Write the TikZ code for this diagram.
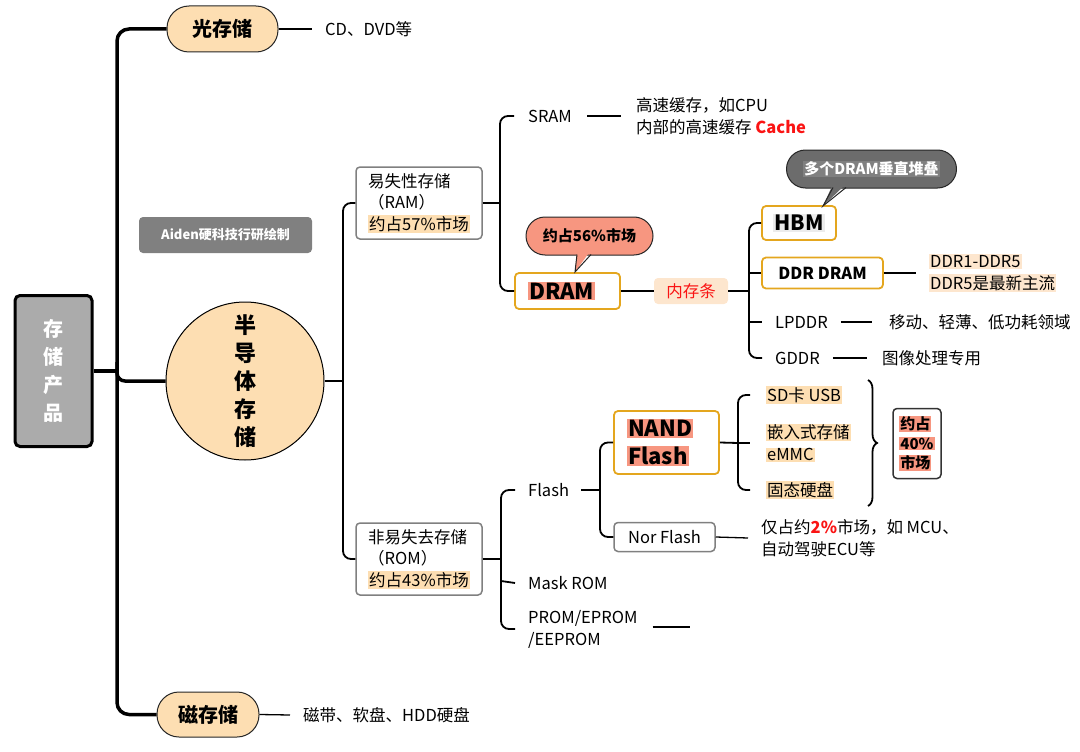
\documentclass[tikz,border=0pt]{standalone}
\usepackage{fontspec}
\setmainfont{Noto Sans CJK SC}
\usetikzlibrary{decorations.pathreplacing}
\definecolor{peach}{RGB}{253,222,178}
\definecolor{lpeach}{RGB}{253,230,206}
\definecolor{salmon}{RGB}{247,150,128}
\definecolor{gold}{RGB}{228,166,30}
\definecolor{rootgray}{RGB}{171,171,171}
\definecolor{boxgray}{RGB}{128,128,128}
\definecolor{dgray}{RGB}{108,108,108}
\definecolor{mgray}{RGB}{128,128,128}
\definecolor{hgray}{RGB}{236,236,236}
\definecolor{redt}{RGB}{250,20,20}
\setlength{\fboxsep}{1pt}
\newcommand\fsz[2]{\fontsize{#1}{#2}\selectfont}
\newcommand\hlp[1]{\colorbox{peach}{#1}}
\newcommand\hll[1]{\colorbox{lpeach}{#1}}
\newcommand\hls[1]{\colorbox{salmon}{#1}}
\tikzset{
  trunk/.style={line width=3.5pt, draw=black},
  br/.style={line width=1.8pt, draw=black},
  thinl/.style={line width=1.3pt, draw=black},
  txt/.style={inner sep=0pt, anchor=west, font=\fsz{16.5}{22}, align=left},
  pill/.style={draw=black!85, line width=1pt, fill=peach, rounded corners=22pt, inner sep=0pt, font=\fsz{20}{24}\bfseries},
  rootbox/.style={draw=black, line width=3pt, fill=rootgray, rounded corners=5pt, minimum width=77, minimum height=151, text=white, font=\fsz{20}{28}\bfseries, align=center, inner sep=0pt},
  gbox/.style={draw=boxgray, line width=1.5pt, fill=white, rounded corners=4pt, align=left, font=\fsz{16.5}{21.5}, inner sep=0pt},
  goldbox/.style={draw=gold, line width=1.8pt, fill=white, rounded corners=4pt, inner sep=0pt},
  wmark/.style={fill=mgray, rounded corners=4pt, minimum width=173, minimum height=36, text=white, font=\fsz{13}{16}\bfseries, inner sep=0pt},
  bubble/.style={draw=black!85, line width=1pt, rounded corners=19pt, minimum height=38, inner sep=0pt, font=\fsz{15}{18}\bfseries},
}
\begin{document}
\begin{tikzpicture}[x=1pt,y=-1pt]
\useasboundingbox (0,0) rectangle (1080,752);

% ---- level 0/1 nodes
\node[rootbox] (root) at (53.5,371) {存\\储\\产\\品};
\node[pill, minimum width=111, minimum height=46] (opt) at (222.5,29) {光存储};
\node[pill, minimum width=102, minimum height=45] (mag) at (208,714.5) {磁存储};
\node[circle, draw=black, line width=1pt, fill=peach, minimum size=158, inner sep=0pt, align=center, font=\fsz{22}{28}\bfseries] (semi) at (245,381) {半\\导\\体\\存\\储};
\node[txt] (cd) at (325,29) {CD、DVD等};
\node[txt] (hdd) at (303,715) {磁带、软盘、HDD硬盘};
\node[wmark] (wm) at (225.5,235) {Aiden硬科技行研绘制};

% ---- RAM branch
\node[gbox, minimum width=126, minimum height=72] (ram) at (419,203) {易失性存储\\（RAM）\\\hlp{约占57\%市场}};
\node[txt] (sram) at (528,116) {SRAM};
\node[txt] (sramd) at (636,116) {高速缓存，如CPU\\内部的高速缓存 {\color{redt}\bfseries Cache}};
\node[goldbox, text width=79pt, inner xsep=13pt, minimum height=36, align=left, font=\fsz{22}{26}\bfseries] (dram) at (567.5,291) {\hls{DRAM}};
\node[bubble, fill=salmon, minimum width=127] (c56) at (589.5,236) {约占56\%市场};
\fill[salmon] (577,250) -- (575,272) -- (591,250) -- cycle;
\draw[line width=1pt, draw=black!85] (577,254.5) -- (575,272) -- (591,254.5);
\node[fill=lpeach, rounded corners=4pt, minimum width=74, minimum height=26, inner sep=0pt, text=redt, font=\fsz{16.5}{20}] (nc) at (691,291) {内存条};
\node[goldbox, minimum width=74, minimum height=34, font=\fsz{21}{24}\bfseries] (hbm) at (799,223) {\colorbox{hgray}{HBM}};
\node[bubble, fill=dgray, minimum width=170, text=white] (cgr) at (871.5,169) {\colorbox{mgray}{多个DRAM垂直堆叠}};
\fill[dgray] (833,184) -- (823,206) -- (846,184) -- cycle;
\draw[line width=1pt, draw=black!85] (833,187.5) -- (823,206) -- (846,187.5);
\node[goldbox, minimum width=121, minimum height=31, font=\fsz{16.5}{20}\bfseries] (ddr) at (822.5,273) {DDR DRAM};
\node[txt] (ddrd) at (929,273) {\hll{DDR1-DDR5}\\\hll{DDR5是最新主流}};
\node[txt] (lp) at (775,322) {LPDDR};
\node[txt] (lpd) at (889,322) {移动、轻薄、低功耗领域};
\node[txt] (gd) at (775,358) {GDDR};
\node[txt] (gdd) at (882,358) {图像处理专用};

% ---- ROM branch
\node[gbox, minimum width=126, minimum height=72] (rom) at (419,559) {非易失去存储\\（ROM）\\\hlp{约占43\%市场}};
\node[txt] (flash) at (528,490) {Flash};
\node[txt] (mask) at (528,583) {Mask ROM};
\node[txt] (prom) at (528,629) {PROM/EPROM\\/EEPROM};
\coordinate (promend) at (690,627);
\node[goldbox, text width=79pt, inner xsep=13pt, minimum height=63, align=left, font=\fsz{22}{28}\bfseries] (nand) at (666.5,442.5) {\hls{NAND}\\\hls{Flash}};
\node[gbox, minimum width=101, minimum height=29] (nor) at (664.5,537) {Nor Flash};
\node[txt] (nord) at (761,538) {仅占约{\color{redt}\bfseries 2\%}市场，如 MCU、\\自动驾驶ECU等};
\node[txt] (sd) at (766,395) {\hlp{SD卡 USB}};
\node[txt] (emmc) at (766,443) {\hlp{嵌入式存储}\\\hlp{eMMC}};
\node[txt] (ssd) at (766,490) {\hlp{固态硬盘}};
\coordinate (brt) at (868,380);
\coordinate (brb) at (868,506);
\node[draw=black!80, line width=1.5pt, fill=white, rounded corners=4pt, minimum width=48, minimum height=70, inner sep=0pt, align=left, font=\fsz{15}{19.5}\bfseries] (p40) at (917,443.5) {\hls{约占}\\\hls{40\%}\\\hls{市场}};

% ---- connectors
\draw[trunk] (root.east) -- (117,371);
\draw[trunk, rounded corners=12pt] (opt.west) -| (117,371) |- (mag.west);
\draw[trunk, rounded corners=8pt] (117,362) |- (semi.west);
\draw[thinl] (opt.east) -- ([xshift=-13]cd.west);
\draw[thinl] (mag.east) -- ([xshift=-13]hdd.west);

\draw[br] (semi.east) -- (343,381);
\draw[br, rounded corners=8pt] (ram.west) -| (343,381) |- (rom.west);
\draw[br] (ram.east) -- (500,203);
\draw[br, rounded corners=8pt] ([xshift=-14]sram.west) -| (500,203) |- (dram.west);
\draw[thinl] ([xshift=15]sram.east) -- ([xshift=-15]sramd.west);
\draw[br] (dram.east) -- (nc.west);
\draw[br] (nc.east) -- (749,291);
\draw[br, rounded corners=8pt] (hbm.west) -| (749,291) |- ([xshift=-13]gd.west);
\draw[br] (749,273) -- (ddr.west);
\draw[br] (749,322) -- ([xshift=-13]lp.west);
\draw[br] (ddr.east) -- ([xshift=-13]ddrd.west);
\draw[thinl] ([xshift=13]lp.east) -- ([xshift=-17]lpd.west);
\draw[thinl] ([xshift=13]gd.east) -- ([xshift=-15]gdd.west);

\draw[br] (rom.east) -- (501,559);
\draw[br, rounded corners=8pt] ([xshift=-13]flash.west) -| (501,559) |- ([xshift=-13]prom.west);
\draw[br] (501,581) -- ([xshift=-13]mask.west);
\draw[thinl] ([xshift=15,yshift=2]prom.east) -- (promend);
\draw[br] ([xshift=12]flash.east) -- (600,490);
\draw[br, rounded corners=8pt] (nand.west) -| (600,490) |- (nor.west);
\draw[thinl] (nor.east) -- ([xshift=-13]nord.west);
\draw[br] (nand.east) -- (738,443);
\draw[br, rounded corners=8pt] ([xshift=-16]sd.west) -| (738,443) |- ([xshift=-16]ssd.west);
\draw[br] (738,443) -- ([xshift=-16]emmc.west);
\draw[line width=1.8pt, decorate, decoration={brace, amplitude=9pt}] (brt) -- (brb);
\end{tikzpicture}
\end{document}
